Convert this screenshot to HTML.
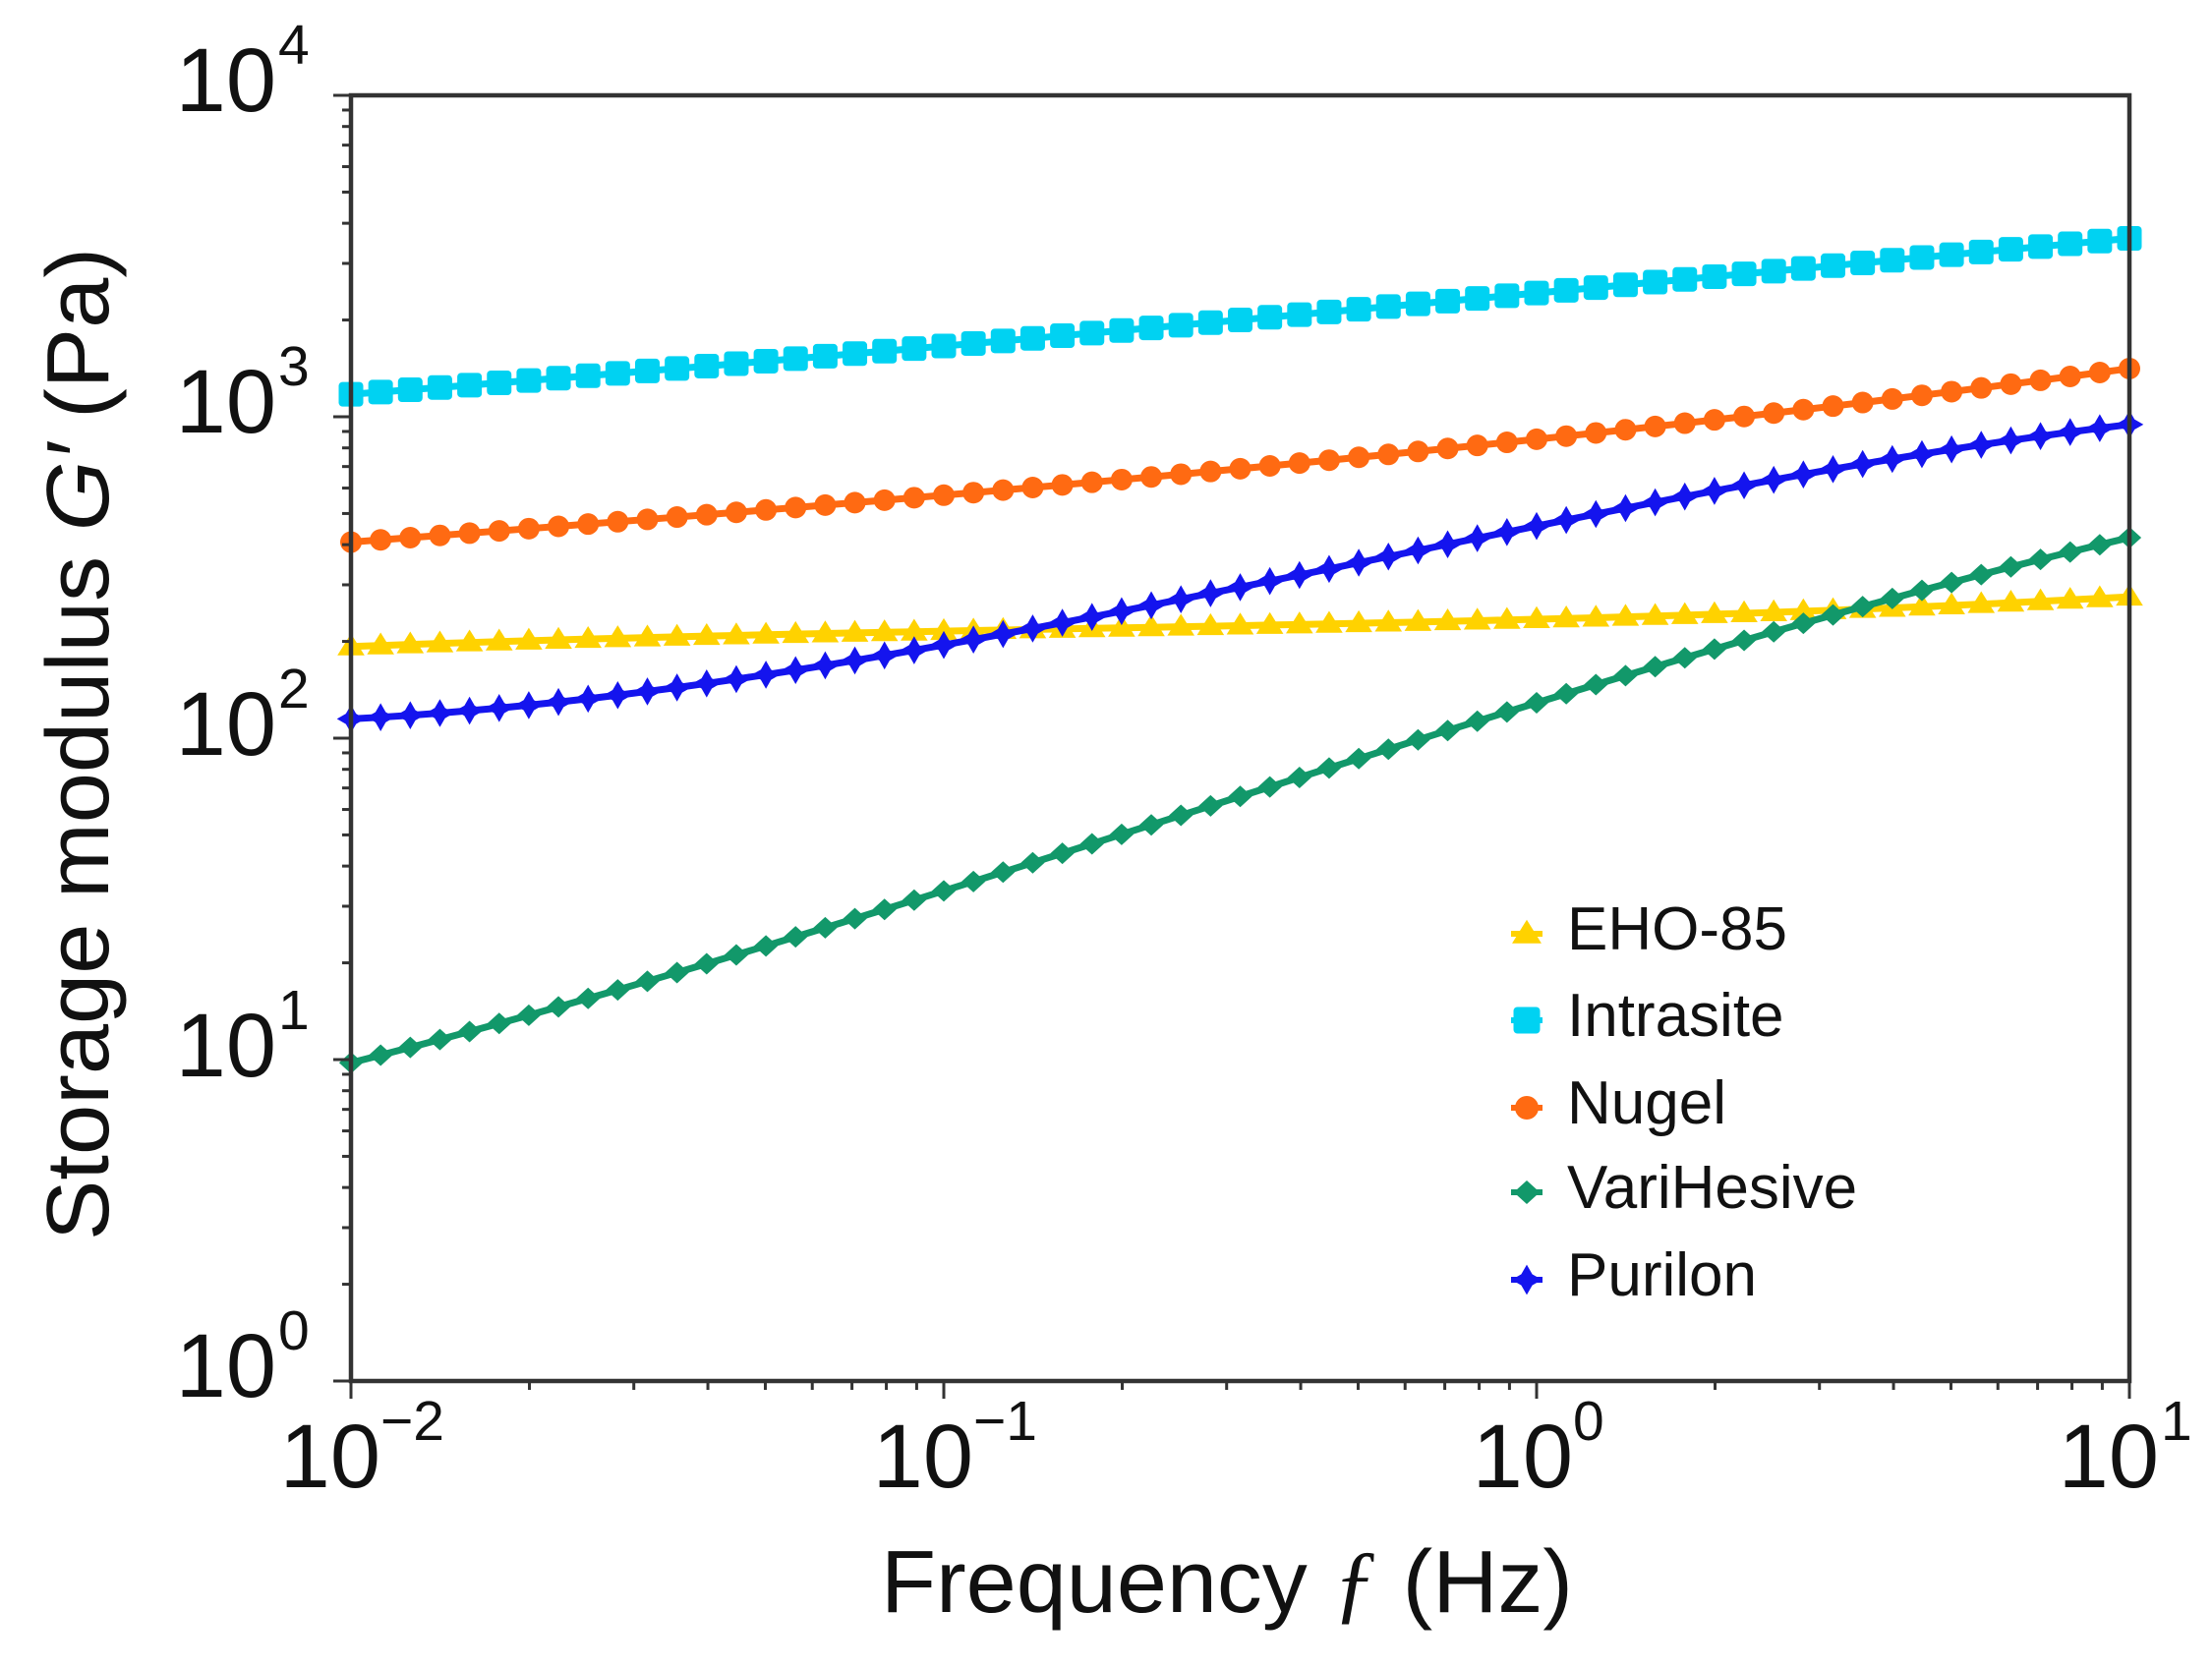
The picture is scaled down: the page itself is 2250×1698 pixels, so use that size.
<!DOCTYPE html>
<html><head><meta charset="utf-8"><style>
html,body{margin:0;padding:0;background:#fff;}
svg{display:block;}
text{font-family:"Liberation Sans",sans-serif;fill:#111;}
</style></head><body>
<svg id="s" width="2250" height="1698" viewBox="0 0 2250 1698" xmlns="http://www.w3.org/2000/svg">
<g id="series"></g>
<g id="axes" stroke="#333" stroke-width="4.5" fill="none">
<path d="M357 97 H2166 V1405 H357 Z"/>
</g>
<g id="ticks" stroke="#333" stroke-width="3"></g>
<g font-size="92">
<text x="281" y="113" text-anchor="end">10</text><text x="283" y="65" font-size="57">4</text>
<text x="281" y="440" text-anchor="end">10</text><text x="283" y="392" font-size="57">3</text>
<text x="281" y="768" text-anchor="end">10</text><text x="283" y="720" font-size="57">2</text>
<text x="281" y="1095" text-anchor="end">10</text><text x="283" y="1047" font-size="57">1</text>
<text x="281" y="1421" text-anchor="end">10</text><text x="283" y="1373" font-size="57">0</text>
<text x="387" y="1513" text-anchor="end">10</text><text x="387" y="1465" font-size="57">−2</text>
<text x="990" y="1513" text-anchor="end">10</text><text x="990" y="1465" font-size="57">−1</text>
<text x="1600" y="1513" text-anchor="end">10</text><text x="1600" y="1465" font-size="57">0</text>
<text x="2196" y="1513" text-anchor="end">10</text><text x="2198" y="1465" font-size="57">1</text>
</g>
<text x="896" y="1640" font-size="90" textLength="704" lengthAdjust="spacingAndGlyphs">Frequency <tspan font-family="Liberation Serif" font-style="italic">ƒ</tspan> (Hz)</text>
<text transform="translate(110,1262) rotate(-90)" font-size="90" textLength="1010" lengthAdjust="spacingAndGlyphs">Storage modulus  <tspan font-style="italic">G′</tspan> (Pa)</text>
<g id="legend" font-size="62">
<text x="1594" y="966">EHO-85</text>
<text x="1594" y="1054">Intrasite</text>
<text x="1594" y="1143">Nugel</text>
<text x="1594" y="1229">VariHesive</text>
<text x="1594" y="1318">Purilon</text>
</g>
</svg>
<script>
var NS="http://www.w3.org/2000/svg";
var X0=357,X1=2166,Y0=1405,DEC=327;
function px(lx){return X0+(lx+2)/3*(X1-X0);}
function py(ly){return Y0-ly*DEC;}
function el(t,a,p){var e=document.createElementNS(NS,t);for(var k in a)e.setAttribute(k,a[k]);p.appendChild(e);return e;}
var tk=document.getElementById('ticks');
for(var d=0;d<4;d++){for(var m=1;m<10;m++){var y=py(d+Math.log10(m));var L=m==1?18:9;el('line',{x1:X0-L,y1:y,x2:X0,y2:y},tk);}}
el('line',{x1:X0-18,y1:py(4),x2:X0,y2:py(4)},tk);
for(var d=-2;d<1;d++){for(var m=1;m<10;m++){var x=px(d+Math.log10(m));var L=m==1?18:9;el('line',{x1:x,y1:Y0,x2:x,y2:Y0+L},tk);}}
el('line',{x1:X1,y1:Y0,x2:X1,y2:Y0+18},tk);
function lag(v,t){var xs=[-2,-1,0,1],s=0;for(var i=0;i<4;i++){var p=v[i];for(var j=0;j<4;j++)if(j!=i)p*=(t-xs[j])/(xs[i]-xs[j]);s+=p;}return s;}
var g=document.getElementById('series');
function mk(shape,x,y,c,sz,parent){
 if(shape=='sq')el('rect',{x:x-sz/2,y:y-sz/2,width:sz,height:sz,rx:4,fill:c},parent);
 else if(shape=='ci')el('circle',{cx:x,cy:y,r:sz/2,fill:c},parent);
 else if(shape=='di'){var r=sz/2;el('path',{d:'M'+x+' '+(y-r)+' L'+(x+r*1.1)+' '+y+' L'+x+' '+(y+r)+' L'+(x-r*1.1)+' '+y+'Z',fill:c},parent);}
 else if(shape=='st'){var r=sz/2;el('path',{d:'M'+x+' '+(y-r*1.1)+' L'+(x+r*0.4)+' '+(y-r*0.4)+' L'+(x+r*1.1)+' '+y+' L'+(x+r*0.4)+' '+(y+r*0.4)+' L'+x+' '+(y+r*1.1)+' L'+(x-r*0.4)+' '+(y+r*0.4)+' L'+(x-r*1.1)+' '+y+' L'+(x-r*0.4)+' '+(y-r*0.4)+'Z',fill:c},parent);}
 else if(shape=='tr'){var r=sz/2;el('path',{d:'M'+x+' '+(y-r*1.1)+' L'+(x+r*1.15)+' '+(y+r*0.75)+' L'+(x-r*1.15)+' '+(y+r*0.75)+'Z',fill:c},parent);}
}
var S=[
 {v:[2.285,2.333,2.37,2.44],c:'#FFD200',sh:'tr',sz:24},
 {v:[3.07,3.22,3.385,3.555],c:'#00D2F2',sh:'sq',sz:25},
 {v:[2.61,2.756,2.93,3.15],c:'#FF6A12',sh:'ci',sz:22},
 {v:[0.99,1.525,2.11,2.624],c:'#12986A',sh:'di',sz:22},
 {v:[2.06,2.29,2.66,2.976],c:'#1414EE',sh:'st',sz:26}
];
S.forEach(function(s){
 var pts=[];for(var i=0;i<=60;i++){var t=-2+i*3/60;pts.push([px(t),py(lag(s.v,t))]);}
 el('polyline',{points:pts.map(function(p){return p.join(',')}).join(' '),fill:'none',stroke:s.c,'stroke-width':7},g);
 pts.forEach(function(p){mk(s.sh,p[0],p[1],s.c,s.sz,g);});
});
var lg=document.getElementById('legend');
var ly=[950,1038,1127,1213,1302];
S.forEach(function(s,i){
 el('line',{x1:1537,y1:ly[i],x2:1569,y2:ly[i],stroke:s.c,'stroke-width':6},lg);
 mk(s.sh,1553,ly[i],s.c,s.sz+2,lg);
});
</script>
</body></html>
